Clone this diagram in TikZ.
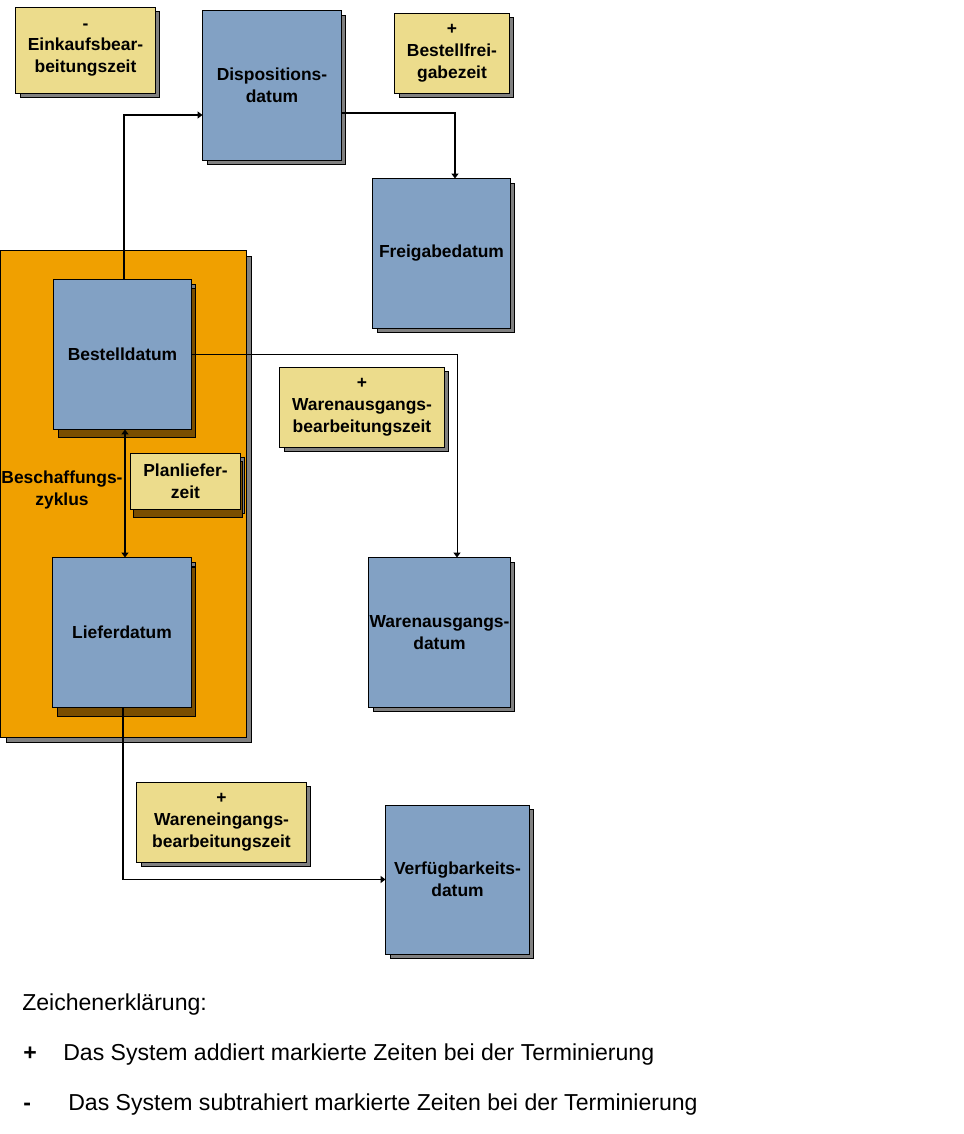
\documentclass[tikz,border=0pt]{standalone}
\usepackage{fontspec}
\setmainfont{Liberation Sans}
\usetikzlibrary{arrows.meta, shadows}
\definecolor{boxblue}{HTML}{82A1C4}
\definecolor{noteyellow}{HTML}{ECDC8C}
\definecolor{cycleorange}{HTML}{F0A000}
\definecolor{shadowgray}{HTML}{808080}
\definecolor{shadowbrown}{HTML}{7A4E00}

\begin{document}
\begin{tikzpicture}[
    x=0.025cm, y=-0.025cm,
    every node/.style={font=\fontsize{12.4}{15.6}\selectfont\bfseries, align=center, inner sep=0pt},
    datebox/.style={
        rectangle,
        draw=black,
        fill=boxblue,
        line width=0.7pt,
        minimum width=3.45cm,
        minimum height=3.725cm,
        general shadow={fill=shadowgray, draw=black, line width=0.7pt,
            shadow xshift=3pt, shadow yshift=-3pt}
    },
    innerdatebox/.style={
        datebox,
        general shadow={fill=shadowbrown, draw=black, line width=0.7pt,
            shadow xshift=3pt, shadow yshift=-6pt}
    },
    timebox/.style={
        rectangle,
        draw=black,
        fill=noteyellow,
        line width=0.7pt,
        minimum height=2cm,
        general shadow={fill=shadowgray, draw=black, line width=0.7pt,
            shadow xshift=3pt, shadow yshift=-3pt}
    },
    cyclebox/.style={
        rectangle,
        draw=black,
        fill=cycleorange,
        line width=0.7pt,
        general shadow={fill=shadowgray, draw=black, line width=0.7pt,
            shadow xshift=4pt, shadow yshift=-4pt}
    },
    myarrow/.style={
        -{Triangle[length=3.5pt,width=5pt]},
        line width=1.4pt
    },
    mythinarrow/.style={
        -{Triangle[length=3.5pt,width=5pt]},
        line width=0.7pt
    },
    legendtext/.style={
        font=\fontsize{16.4}{19}\selectfont,
        anchor=base west
    }
]
\useasboundingbox (0,0) rectangle (963,1134);

% Beschaffungszyklus
\node[cyclebox, minimum width=6.125cm, minimum height=12.15cm] (zyklusbox) at (123.5,494) {};
\node (zyklus) at (62,490) {Beschaffungs-\\zyklus};

% Top row
\node[timebox, minimum width=3.475cm, minimum height=2.15cm] (einkauf) at (85.5,50) {-\\Einkaufsbear-\\beitungszeit};
\node[datebox] (dispo) at (272,85.5) {Dispositions-\\datum};
\node[timebox, minimum width=2.85cm] (bfrei) at (452,53) {+\\Bestellfrei-\\gabezeit};
\node[datebox, minimum width=3.425cm] (freigabe) at (441.5,253.5) {Freigabedatum};

% Inside the cycle
\node[innerdatebox, minimum width=3.425cm] (bestell) at (122.5,354.5) {Bestelldatum};
\node[innerdatebox, general shadow={fill=shadowbrown, draw=black, line width=0.7pt,
    shadow xshift=3pt, shadow yshift=-7pt}] (liefer) at (122,632.5) {Lieferdatum};
\node[timebox, minimum width=2.725cm, minimum height=1.4cm,
    general shadow={fill=shadowbrown, draw=black, line width=0.7pt,
    shadow xshift=2pt, shadow yshift=-6pt}] (plan) at (185.5,481) {Planliefer-\\zeit};

% Right column
\node[timebox, minimum width=4.1cm] (wauszeit) at (362,407) {+\\Warenausgangs-\\bearbeitungszeit};
\node[datebox, minimum width=3.525cm] (waus) at (439.5,632.5) {Warenausgangs-\\datum};
\node[timebox, minimum width=4.225cm] (weingzeit) at (221.5,822) {+\\Wareneingangs-\\bearbeitungszeit};
\node[datebox, minimum width=3.575cm] (verf) at (457.5,879.5) {Verfügbarkeits-\\datum};

% Arrows
\draw[myarrow] (bestell.north -| 124,0) |- (dispo.west |- 0,115);
\draw[myarrow] (dispo.east |- 0,113) -| (freigabe.north -| 455,0);
\draw[mythinarrow] (bestell.east) -| (waus.north -| 457,0);
\draw[myarrow, {Triangle[length=3.5pt,width=5pt]}-{Triangle[length=3.5pt,width=5pt]}]
    (bestell.south -| 125,0) -- (liefer.north -| 125,0);
\draw[myarrow] (liefer.south -| 123,0) |- (verf.west);

% Legend
\node[legendtext] (legtitle) at (22,1010) {Zeichenerklärung:};
\node[legendtext, font=\fontsize{16.4}{19}\selectfont\bfseries] (legplus) at (23,1060) {+};
\node[legendtext] (legadd) at (63,1060) {Das System addiert markierte Zeiten bei der Terminierung};
\node[legendtext, font=\fontsize{16.4}{19}\selectfont\bfseries] (legminus) at (23,1110) {-};
\node[legendtext] (legsub) at (68,1110) {Das System subtrahiert markierte Zeiten bei der Terminierung};

\end{tikzpicture}
\end{document}
